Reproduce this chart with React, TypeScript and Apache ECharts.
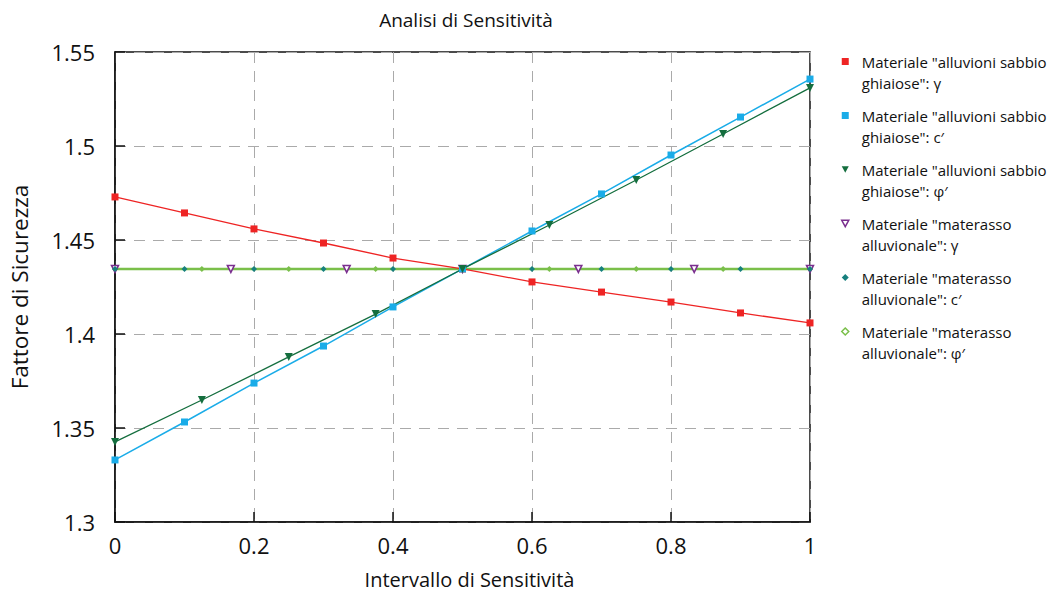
import React, { useEffect, useRef } from "react";
import * as echarts from "echarts";

const xTenths = [0, 0.1, 0.2, 0.3, 0.4, 0.5, 0.6, 0.7, 0.8, 0.9, 1.0];
const xEighths = [0, 0.125, 0.25, 0.375, 0.5, 0.625, 0.75, 0.875, 1.0];
const xSixths = [0, 1 / 6, 2 / 6, 3 / 6, 4 / 6, 5 / 6, 1.0];

const alluvGamma = [1.4729, 1.4644, 1.4559, 1.4484, 1.4404, 1.4346, 1.4277, 1.4223, 1.417, 1.4112, 1.4059];
const alluvC = [1.333, 1.3532, 1.3739, 1.3936, 1.4144, 1.4346, 1.4548, 1.4745, 1.4952, 1.5154, 1.5356];
const alluvPhi = [1.3426, 1.3649, 1.3878, 1.4106, 1.4346, 1.458, 1.4819, 1.5064, 1.5309];
const matGamma = [1.4346, 1.4346, 1.4346, 1.4346, 1.4346, 1.4346, 1.4346];
const matC = [1.4346, 1.4346, 1.4346, 1.4346, 1.4346, 1.4346, 1.4346, 1.4346, 1.4346, 1.4346, 1.4346];
const matPhi = [1.4346, 1.4346, 1.4346, 1.4346, 1.4346, 1.4346, 1.4346, 1.4346, 1.4346];

const names = [
  'Materiale "alluvioni sabbio\nghiaiose": γ',
  'Materiale "alluvioni sabbio\nghiaiose": c′',
  'Materiale "alluvioni sabbio\nghiaiose": φ′',
  'Materiale "materasso\nalluvionale": γ',
  'Materiale "materasso\nalluvionale": c′',
  'Materiale "materasso\nalluvionale": φ′',
];

const xTicks = [0, 0.2, 0.4, 0.6, 0.8, 1];
const yTicks = [1.3, 1.35, 1.4, 1.45, 1.5, 1.55];

const FONT = "'Open Sans', Lato, sans-serif";
const downTri = "path://M0,0L10,0L5,9Z";

function pairs(xs: number[], ys: number[]) {
  return xs.map((x, i) => [x, ys[i]]);
}

export default function App() {
  const ref = useRef<HTMLDivElement>(null);
  useEffect(() => {
    if (!ref.current) return;
    const chart = echarts.init(ref.current, undefined, { renderer: "svg" });
    const colors = ["#ee2424", "#1aace8", "#146e3e", "#7a2e8e", "#17807e", "#7abf4a"];
    chart.setOption({
      animation: false,
      backgroundColor: "#fff",
      textStyle: { fontFamily: FONT },
      title: {
        text: "Analisi di Sensitività",
        left: 461,
        textAlign: "center",
        top: 5,
        textStyle: { fontFamily: FONT, fontWeight: "normal", fontSize: 19, color: "#111" },
      },
      grid: {
        left: 115,
        right: 245,
        top: 52,
        bottom: 73,
        show: true,
        borderColor: "#111",
        borderWidth: 1.5,
      },
      legend: {
        orient: "vertical",
        left: 836,
        top: 25,
        itemGap: -9,
        itemWidth: 7,
        itemHeight: 7,
        formatter: (n: string) => " \n" + n,
        textStyle: {
          fontFamily: FONT,
          fontSize: 15,
          color: "#111",
          lineHeight: 21,
          padding: [0, 0, 0, 8],
        },
        data: [
          { name: names[0], icon: "rect", itemStyle: { color: colors[0] } },
          { name: names[1], icon: "rect", itemStyle: { color: colors[1] } },
          { name: names[2], icon: downTri, itemStyle: { color: colors[2] } },
          { name: names[3], icon: downTri, itemStyle: { color: "#fff", borderColor: colors[3], borderWidth: 1.5 } },
          { name: names[4], icon: "diamond", itemStyle: { color: colors[4] } },
          { name: names[5], icon: "diamond", itemStyle: { color: "#fff", borderColor: colors[5], borderWidth: 1.5 } },
        ],
      },
      xAxis: {
        type: "value",
        min: 0,
        max: 1,
        interval: 0.2,
        name: "Intervallo di Sensitività",
        nameLocation: "middle",
        nameGap: 47,
        nameTextStyle: { fontFamily: FONT, fontSize: 20, color: "#111", padding: [0, 0, 0, 14] },
        axisLine: { lineStyle: { color: "#111", width: 1.5 } },
        axisTick: { inside: true, length: 10, lineStyle: { color: "#111", width: 1.5 } },
        axisLabel: {
          fontFamily: FONT,
          fontSize: 22,
          color: "#111",
          margin: 12,
          formatter: (v: number) => (xTicks.includes(Math.round(v * 10) / 10) ? String(Math.round(v * 10) / 10) : ""),
        },
        splitLine: { show: true, lineStyle: { color: "#aaa", type: [11, 8], width: 1 } },
      },
      yAxis: {
        type: "value",
        min: 1.3,
        max: 1.55,
        interval: 0.05,
        name: "Fattore di Sicurezza",
        nameLocation: "middle",
        nameGap: 84,
        nameTextStyle: { fontFamily: FONT, fontSize: 22.5, color: "#111" },
        axisLine: { lineStyle: { color: "#111", width: 1.5 } },
        axisTick: { inside: true, length: 10, lineStyle: { color: "#111", width: 1.5 } },
        axisLabel: {
          fontFamily: FONT,
          fontSize: 22,
          color: "#111",
          margin: 20,
          formatter: (v: number) => {
            const r = Math.round(v * 100) / 100;
            return yTicks.includes(r) ? String(r) : "";
          },
        },
        splitLine: { show: true, lineStyle: { color: "#aaa", type: [11, 8], width: 1 } },
      },
      series: [
        {
          name: names[3],
          type: "line",
          z: 2,
          data: pairs(xSixths, matGamma),
          symbol: "triangle",
          symbolRotate: 180,
          symbolSize: 7,
          lineStyle: { color: colors[3], width: 1, opacity: 0 },
          itemStyle: { color: "#fff", borderColor: colors[3], borderWidth: 1.5 },
        },
        {
          name: names[4],
          type: "line",
          z: 2,
          data: pairs(xTenths, matC),
          symbol: "diamond",
          symbolSize: 6,
          lineStyle: { color: colors[4], width: 1, opacity: 0 },
          itemStyle: { color: colors[4] },
        },
        {
          name: names[5],
          type: "line",
          z: 1,
          data: pairs(xEighths, matPhi),
          symbol: "diamond",
          symbolSize: 6,
          lineStyle: { color: colors[5], width: 2.6 },
          itemStyle: { color: colors[5] },
        },
        {
          name: names[0],
          type: "line",
          z: 3,
          data: pairs(xTenths, alluvGamma),
          symbol: "rect",
          symbolSize: 7,
          lineStyle: { color: colors[0], width: 1.3 },
          itemStyle: { color: colors[0] },
        },
        {
          name: names[1],
          type: "line",
          z: 3,
          data: pairs(xTenths, alluvC),
          symbol: "rect",
          symbolSize: 7,
          lineStyle: { color: colors[1], width: 1.5 },
          itemStyle: { color: colors[1] },
        },
        {
          name: names[2],
          type: "line",
          z: 3,
          data: pairs(xEighths, alluvPhi),
          symbol: "triangle",
          symbolRotate: 180,
          symbolSize: 8,
          lineStyle: { color: colors[2], width: 1.3 },
          itemStyle: { color: colors[2] },
        },
      ],
    });
    return () => chart.dispose();
  }, []);
  return <div ref={ref} style={{ width: 1055, height: 595, margin: -8 }} />;
}
